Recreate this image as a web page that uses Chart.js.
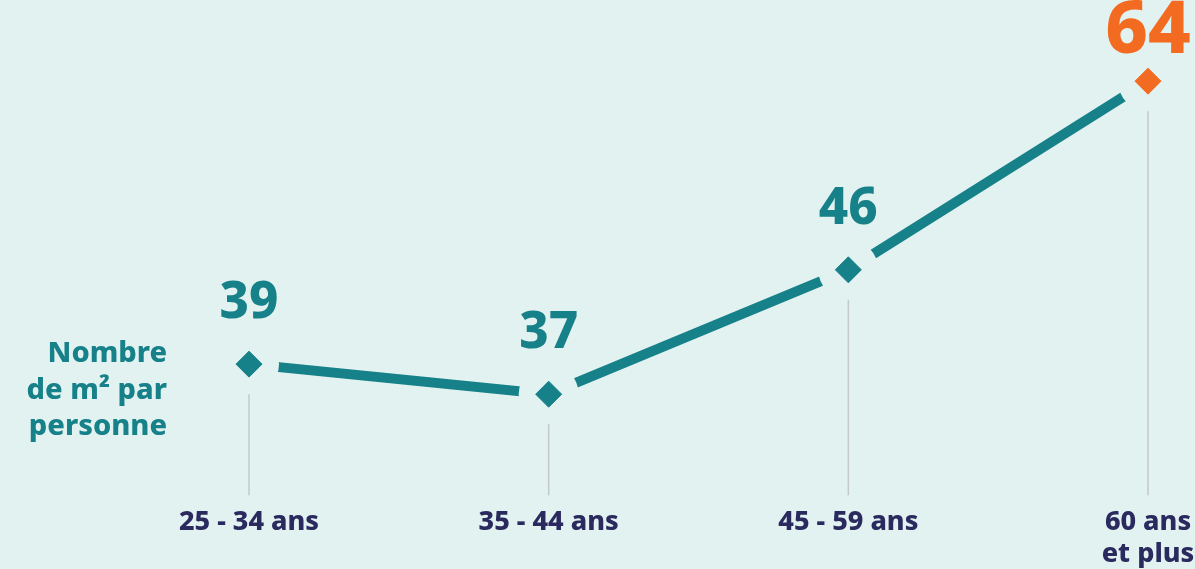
<!DOCTYPE html>
<html>
<head>
<meta charset="utf-8">
<script src="https://cdn.jsdelivr.net/npm/chart.js@4"></script>
<style>
  html, body { margin: 0; padding: 0; background: #e2f2f1; }
  #wrap { width: 1195px; height: 569px; position: relative; }
</style>
</head>
<body>
<div id="wrap"><canvas id="myChart"></canvas></div>
<script>
const ctx = document.getElementById('myChart');

const ageGroups = [['25 - 34 ans'], ['35 - 44 ans'], ['45 - 59 ans'], ['60 ans', 'et plus']];
const surface = [39, 37, 46, 64];
const pointColors = ['#168189', '#168189', '#168189', '#f36b21'];
const yTitle = ['Nombre', 'de m² par', 'personne'];

const BG = '#e2f2f1';
const TEAL = '#168189';
const FONT = '"Noto Sans"';

// gray drop lines + value labels + left title
const decor = {
    id: 'decor',
    beforeDatasetsDraw(chart) {
        const c = chart.ctx;
        const meta = chart.getDatasetMeta(0);
        const bottom = chart.chartArea.bottom;
        c.save();
        c.strokeStyle = '#c3c9c9';
        c.lineWidth = 1.5;
        meta.data.forEach(p => {
            c.beginPath();
            c.moveTo(p.x, p.y);
            c.lineTo(p.x, bottom);
            c.stroke();
        });
        c.restore();
    },
    afterDatasetsDraw(chart) {
        const c = chart.ctx;
        const meta = chart.getDatasetMeta(0);
        c.save();
        c.textAlign = 'center';
        c.textBaseline = 'alphabetic';
        meta.data.forEach((p, i) => {
            const last = i === surface.length - 1;
            c.fillStyle = pointColors[i];
            c.font = (last ? '800 74px ' : '800 51px ') + FONT;
            c.fillText(String(surface[i]), p.x, p.y - (last ? 28 : 46));
        });
        // left title
        c.fillStyle = TEAL;
        c.font = '800 29px ' + FONT;
        c.textAlign = 'right';
        yTitle.forEach((t, i) => c.fillText(t, 167, 362 + i * 36.5));
        c.restore();
    }
};

const myChart = new Chart(ctx, {
    type: 'line',
    data: {
        labels: ageGroups,
        datasets: [
            {   // line
                data: surface,
                borderColor: TEAL,
                borderWidth: 10,
                pointRadius: 0,
                fill: false,
                tension: 0,
                order: 3
            },
            {   // gap around the markers
                data: surface,
                showLine: false,
                pointStyle: 'circle',
                pointRadius: 30,
                pointBackgroundColor: BG,
                pointBorderWidth: 0,
                order: 2
            },
            {   // markers
                data: surface,
                showLine: false,
                pointStyle: 'rectRot',
                pointRadius: 13,
                pointBackgroundColor: pointColors,
                pointBorderColor: pointColors,
                pointBorderWidth: 1,
                order: 1
            }
        ]
    },
    options: {
        responsive: true,
        maintainAspectRatio: false,
        animation: false,
        layout: { padding: { left: 249, right: 47, top: 27, bottom: -12 } },
        scales: {
            x: {
                offset: false,
                grid: { display: false, drawTicks: false },
                border: { display: false },
                ticks: {
                    color: '#2a2a5e',
                    font: { family: FONT, size: 27, weight: '800', lineHeight: 1.18 },
                    padding: 11,
                    maxRotation: 0
                },
                // let the last label run off the edge like the original
                afterFit(scale) {
                    scale.paddingLeft = 0;
                    scale.paddingRight = 0;
                }
            },
            y: {
                type: 'logarithmic',
                display: false,
                min: 31,
                max: 70
            }
        },
        plugins: {
            legend: { display: false },
            tooltip: { enabled: false }
        }
    },
    plugins: [decor]
});
</script>
</body>
</html>
